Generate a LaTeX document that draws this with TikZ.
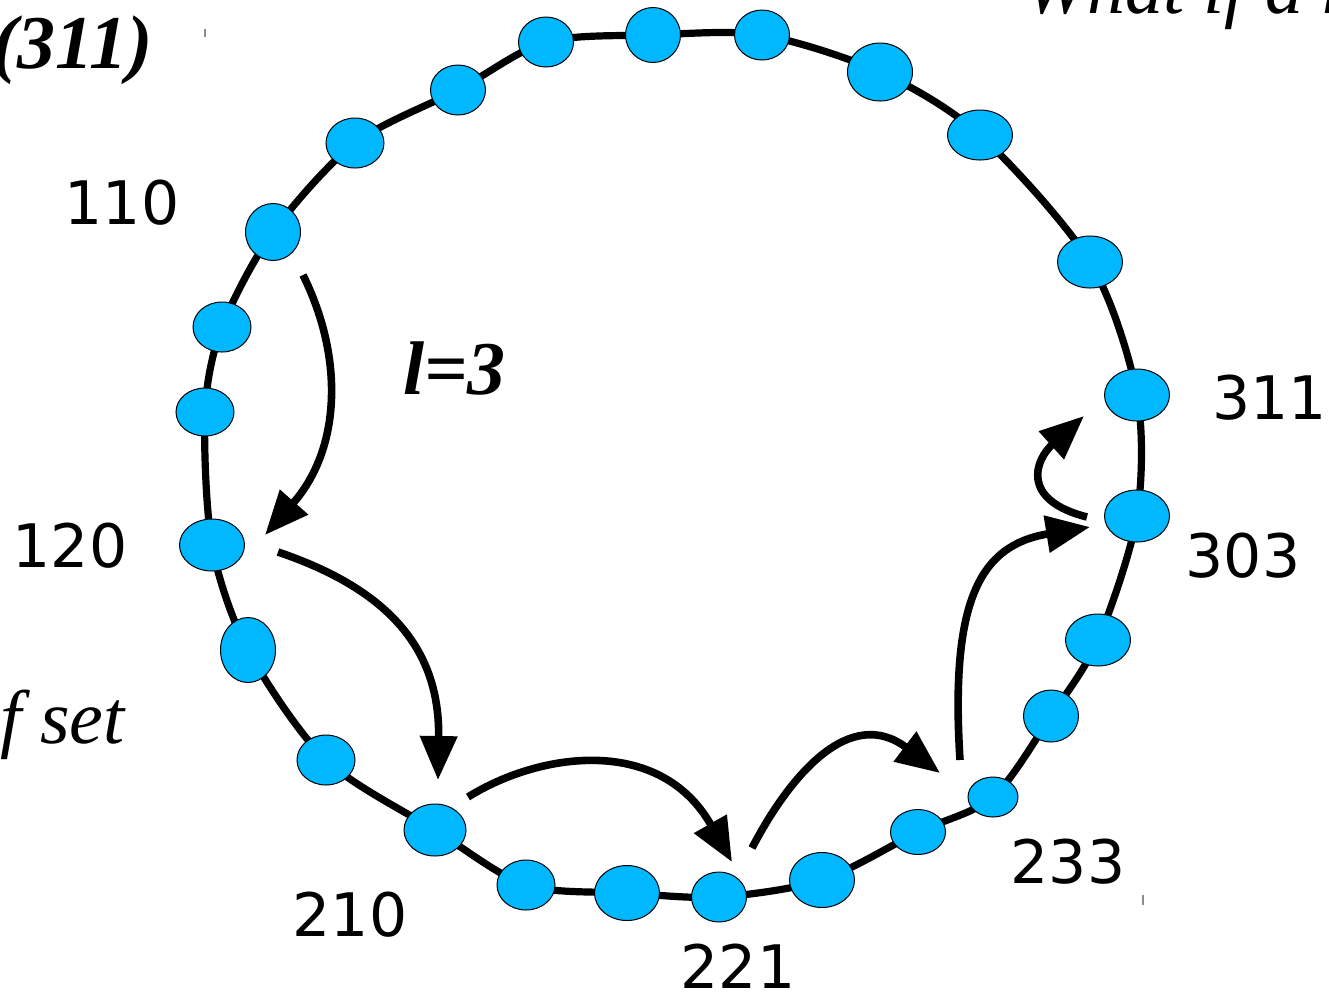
\documentclass[tikz,border=0pt]{standalone}
\usepackage{fontspec}
\setmainfont{Liberation Serif}
\newfontfamily\idfont{DejaVu Sans}
\usetikzlibrary{arrows.meta,shapes.geometric}
\definecolor{PeerClr}{rgb}{0,0.72,1}
\definecolor{TickClr}{rgb}{0.55,0.55,0.55}

\begin{document}
\begin{tikzpicture}[x=0.5pt,y=-0.5pt,
  peer/.style={ellipse,draw=black,line width=0.5pt,fill=PeerClr,inner sep=0pt},
  ring/.style={line width=3.6pt,black},
  hop/.style={line width=3.8pt,-{Triangle[length=22pt,width=18pt]}},
  idlabel/.style={font=\idfont\fontsize{30}{36}\selectfont},
  note/.style={font=\itshape\fontsize{38}{44}\selectfont},
  boldnote/.style={font=\bfseries\itshape\fontsize{38}{44}\selectfont}]
\useasboundingbox (0,0) rectangle (1329,993);
\clip (0,0) rectangle (1329,993);

\foreach \x/\y [count=\i] in {273/232,355/143,458/90,546/42,653/35,762/35,880/72,980/135,1090/262,1137/395,1137/516,1098/640,1051/716,993/797,918/832,822/880,719/897,627/893,526/885,435/830,326/760,248/650,212/545,205/412,222/327}
  \coordinate (c\i) at (\x,\y);

\draw[ring] plot[smooth cycle] coordinates {(c1) (c2) (c3) (c4) (c5) (c6) (c7) (c8) (c9) (c10) (c11) (c12) (c13) (c14) (c15) (c16) (c17) (c18) (c19) (c20) (c21) (c22) (c23) (c24) (c25)};

\foreach \w/\h [count=\i] in {55/57,58/50,55/50,55/50,55/55,55/50,65/58,65/50,65/52,65/52,65/52,65/52,55/52,50/40,55/45,65/55,55/50,65/55,58/50,62/52,58/50,55/65,65/52,58/48,58/50}
  \node[peer,minimum width=\w*0.5pt,minimum height=\h*0.5pt] (p\i) at (c\i) {};

\node[idlabel] (l110) at (122,203) {110};
\node[idlabel] (l120) at (70,546) {120};
\node[idlabel] (l210) at (350,915) {210};
\node[idlabel] (l221) at (738,966) {221};
\node[idlabel] (l233) at (1068,862) {233};
\node[idlabel] (l303) at (1243,556) {303};
\node[idlabel,anchor=west] (l311) at (1205,398) {311};

\node[boldnote,anchor=base east,inner sep=0pt] (key) at (153,68) {(311)};
\node[boldnote,anchor=base west,inner sep=0pt] (len) at (403,394) {l=3};
\node[note,anchor=base east,inner sep=0pt] (leaf) at (125,743) {f set};
\node[note,anchor=base west,inner sep=0pt] (quest) at (1024,13) {What if a n};

\coordinate (s1) at (303,275); \coordinate (t1) at (265,535);
\coordinate (s2) at (278,552); \coordinate (t2) at (438,780);
\coordinate (s3) at (468,797); \coordinate (t3) at (732,862);
\coordinate (s4) at (752,848); \coordinate (t4) at (940,773);
\coordinate (s5) at (960,760); \coordinate (t5) at (1090,527);
\coordinate (s6) at (1087,517); \coordinate (t6) at (1084,416);

\draw[hop] (s1) .. controls (345,360) and (340,450) .. (t1);
\draw[hop] (s2) .. controls (390,590) and (440,650) .. (t2);
\draw[hop] (s3) .. controls (540,752) and (660,735) .. (t3);
\draw[hop] (s4) .. controls (790,775) and (850,705) .. (t4);
\draw[hop] (s5) .. controls (950,600) and (980,545) .. (t5);
\draw[hop] (s6) .. controls (1020,500) and (1035,460) .. (t6);

\draw[TickClr,line width=0.6pt] (205,29) -- (205,37);
\draw[TickClr,line width=0.6pt] (1143,895) -- (1143,905);
\end{tikzpicture}
\end{document}
